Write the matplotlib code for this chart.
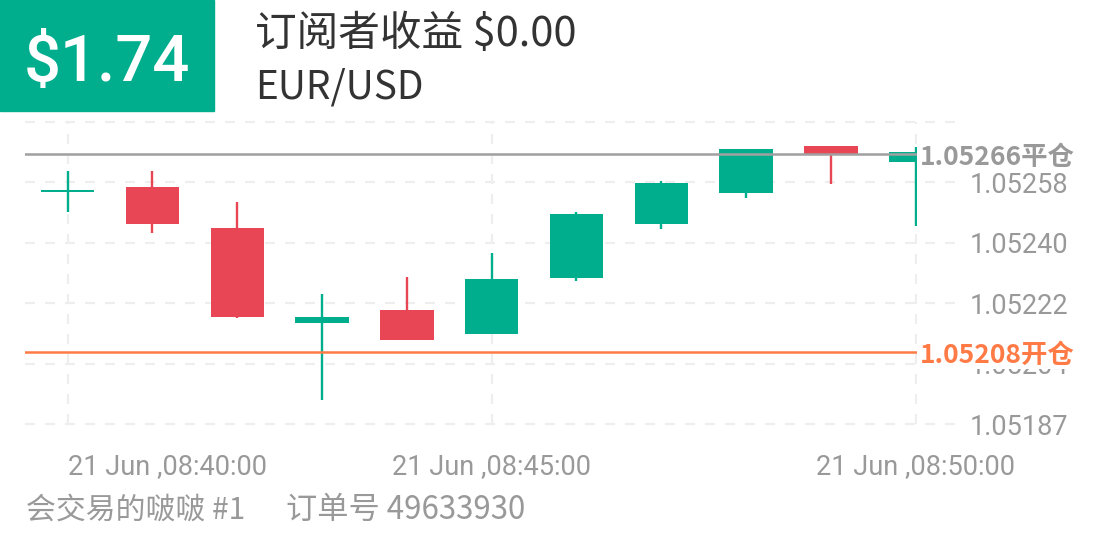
import matplotlib
matplotlib.use("Agg")
import matplotlib.pyplot as plt
from matplotlib.patches import Rectangle
from matplotlib.transforms import blended_transform_factory

plt.rcParams['font.family'] = ['Roboto', 'Noto Sans CJK SC', 'DejaVu Sans']

# ---- data ----
minutes = list(range(11))          # 08:40 ... 08:50, one candle per minute
opens = [1.052549, 1.052564, 1.052443, 1.052165, 1.052202, 1.052134,
         1.052296, 1.052456, 1.052548, 1.052685, 1.052638]
highs = [1.052612, 1.052612, 1.052521, 1.052249, 1.052299, 1.052370,
         1.052491, 1.052581, 1.052676, 1.052685, 1.052682]
lows = [1.052491, 1.052429, 1.052179, 1.051938, 1.052115, 1.052134,
        1.052289, 1.052441, 1.052531, 1.052572, 1.052450]
closes = [1.052556, 1.052456, 1.052184, 1.052182, 1.052115, 1.052293,
          1.052484, 1.052575, 1.052676, 1.052659, 1.052667]

open_price = 1.05208
close_price = 1.05266

ytick_values = [1.051868, 1.0520456, 1.0522232, 1.0524008, 1.0525784, 1.052756]
ytick_labels = ['1.05187', '1.05204', '1.05222', '1.05240', '1.05258', '']
xtick_values = [0, 5, 10]
xtick_labels = ['21 Jun ,08:40:00', '21 Jun ,08:45:00', '21 Jun ,08:50:00']

profit_text = '$1.74'
title_text = '订阅者收益 $0.00'
symbol_text = 'EUR/USD'
trader_text = '会交易的啵啵 #1'
order_text = '订单号 49633930'

# ---- colours ----
green = '#00AE8E'
red = '#E94655'
orange = '#FF7A45'
line_gray = '#A0A0A0'
text_gray = '#999999'
grid_color = '#EEEEEE'

W, H = 1108, 554
fig = plt.figure(figsize=(W / 100, H / 100), dpi=100)
fig.patch.set_facecolor('white')

# plot area in pixels: x 25..917, y 121.7..424.3
ax = fig.add_axes([25 / W, 1 - 424.3 / H, 892 / W, 302.6 / H])
ax.set_xlim(-0.503, 10.015)
ax.set_ylim(ytick_values[0], ytick_values[-1])
for s in ax.spines.values():
    s.set_visible(False)

# grid
for v in ytick_values:
    ax.axhline(v, xmin=0, xmax=(955 - 25) / 892, color=grid_color, lw=1.6,
               ls=(0, (4.5, 4.5)), clip_on=False, zorder=0)
for t in xtick_values:
    ax.axvline(t, color=grid_color, lw=1.6, ls=(0, (4.5, 4.5)), zorder=0)

# candles
for x, o, h, l, c in zip(minutes, opens, highs, lows, closes):
    col = green if c >= o else red
    ax.vlines(x, l, h, color=col, lw=1.7, zorder=2)
    ax.bar(x, abs(c - o), bottom=min(o, c), width=0.63, color=col,
           edgecolor='none', zorder=2)

# open / close lines
ax.axhline(close_price, color=line_gray, lw=1.8, zorder=4)
ax.axhline(open_price, color=orange, lw=1.8, zorder=4)
lab_tr = blended_transform_factory(ax.transAxes, ax.transData)
ax.text((920 - 25) / 892, close_price, f'{close_price:.5f}平仓', transform=lab_tr,
        ha='left', va='center_baseline', fontsize=19, fontweight='bold',
        color=text_gray, family=['Noto Sans CJK SC'], clip_on=False, zorder=5)
ax.text((920 - 25) / 892, open_price, f'{open_price:.5f}开仓', transform=lab_tr,
        ha='left', va='center_baseline', fontsize=19, fontweight='bold',
        color=orange, family=['Noto Sans CJK SC'], clip_on=False, zorder=5,
        bbox=dict(facecolor='white', edgecolor='none', pad=0.5))

# axes ticks
ax.yaxis.tick_right()
ax.set_yticks(ytick_values, ytick_labels)
ax.set_xticks(xtick_values, xtick_labels)
ax.tick_params(axis='y', length=0, pad=38, labelsize=19.5, labelcolor=text_gray)
ax.tick_params(axis='x', length=0, pad=21, labelsize=19.5, labelcolor=text_gray)
ax.get_xticklabels()[0].set_ha('left')

# header
fig.patches.append(Rectangle((0, 1 - 111 / H), 214 / W, 111 / H,
                             transform=fig.transFigure, color=green, zorder=0))
fig.text(107 / W, 1 - 81 / H, profit_text, ha='center', va='baseline',
         fontsize=47, fontweight='medium', color='white', family=['Roboto'])
fig.text(255 / W, 1 - 46 / H, title_text, ha='left', va='baseline',
         fontsize=30, fontweight='medium', color='#333333',
         family=['Noto Sans CJK SC'])
fig.text(255 / W, 1 - 98 / H, symbol_text, ha='left', va='baseline',
         fontsize=28, fontweight='medium', color='#333333',
         family=['Noto Sans CJK SC'])

# footer
fig.text(26 / W, 1 - 519 / H, trader_text, ha='left', va='baseline',
         fontsize=21.5, color=text_gray, family=['Noto Sans CJK SC'])
fig.text(286 / W, 1 - 519 / H, order_text, ha='left', va='baseline',
         fontsize=22.5, color=text_gray, family=['Noto Sans CJK SC'])

fig.savefig('out.png', dpi=100, facecolor='white')
